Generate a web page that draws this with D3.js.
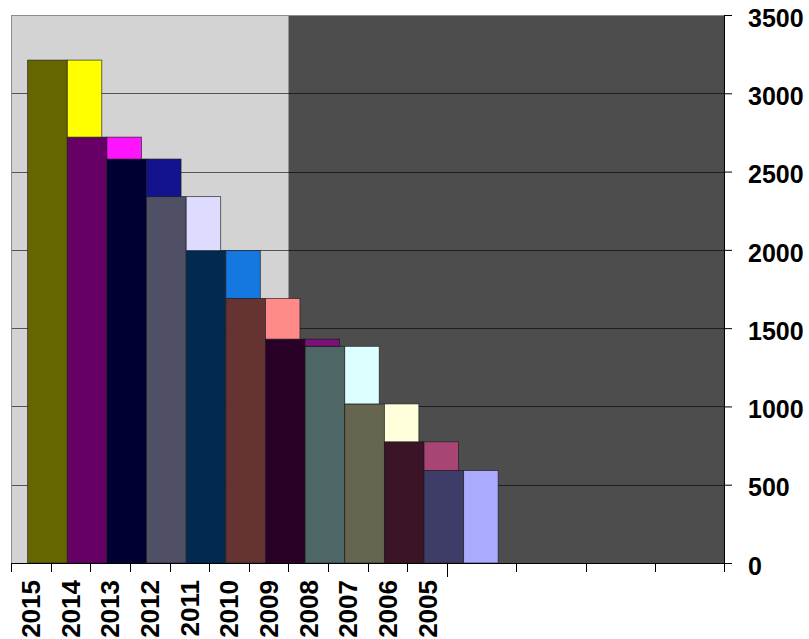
<!DOCTYPE html>
<html>
<head>
<meta charset="utf-8">
<script src="https://cdn.jsdelivr.net/npm/d3@7"></script>
<style>
    body { margin: 0; background: #ffffff; }
    svg text { font-family: "Liberation Sans", Arial, sans-serif; font-weight: bold; fill: #000; }
</style>
</head>
<body>
<div id="chart"></div>
<script>

// years shown on the category axis (newest first)
var years = ["2015", "2014", "2013", "2012", "2011", "2010", "2009", "2008", "2007", "2006", "2005"];
// cumulative totals per year
var totals = [3212, 2720, 2580, 2340, 1995, 1690, 1430, 1384, 1016, 774, 591];
// fill of the total column and of the step on top of the next one
var mainColors = ["#666600", "#660066", "#000033", "#4f5066", "#02294f", "#663333", "#290028", "#4f6666", "#666650", "#3b1428", "#3e3d68"];
var stepColors = ["#ffff00", "#ff14ff", "#131390", "#dddcff", "#1478e0", "#ff8a8a", "#7a1078", "#dcffff", "#ffffdc", "#a84575", "#aaaaff"];
var yTicks = [0, 500, 1000, 1500, 2000, 2500, 3000, 3500];
var emptySlots = 4;   // unused category slots to the right of 2005
var lightSlots = 7;   // categories with the light backdrop

function drawChart(selector){

    var width = 809, height = 639;
    var left = 11, top = 15, right = 724, bottom = 563;
    var splitX = 447;

    var svg = d3.select(selector)
        .append("svg")
        .attr("width", width)
        .attr("height", height);

    var x = d3.scaleBand()
        .domain(years)
        .range([left, splitX])
        .paddingInner(0)
        .paddingOuter(0);

    var bw = x.bandwidth();

    // slots after the last year are wider
    var xRest = d3.scaleLinear()
        .domain([0, emptySlots])
        .range([splitX, right]);

    var y = d3.scaleLinear()
        .domain([0, 3500])
        .range([bottom, top]);

    // backdrop
    var lightEnd = x(years[lightSlots]);
    svg.append("rect")
        .attr("x", left).attr("y", top)
        .attr("width", lightEnd - left).attr("height", bottom - top)
        .attr("fill", "#d3d3d3");
    svg.append("rect")
        .attr("x", lightEnd).attr("y", top)
        .attr("width", right - lightEnd).attr("height", bottom - top)
        .attr("fill", "#4d4d4d");

    // gridlines
    svg.selectAll(".grid")
        .data(yTicks.filter(function(d){ return d > 0; }))
        .enter().append("line")
        .attr("class", "grid")
        .attr("x1", left).attr("x2", right)
        .attr("y1", function(d){ return Math.round(y(d)) + 0.5; })
        .attr("y2", function(d){ return Math.round(y(d)) + 0.5; })
        .attr("stroke", "#000")
        .attr("stroke-opacity", function(d){ return d == 3500 ? 0.35 : 0.6; })
        .attr("stroke-width", 1.2);

    svg.append("line")
        .attr("x1", left + 0.5).attr("x2", left + 0.5)
        .attr("y1", top).attr("y2", bottom)
        .attr("stroke", "#8c8c8c");

    var offset = bw * 0.42;

    // total columns
    svg.selectAll(".bar")
        .data(years)
        .enter().append("rect")
        .attr("class", "bar")
        .attr("x", function(d){ return x(d) + offset; })
        .attr("y", function(d, i){ return y(totals[i]); })
        .attr("width", bw)
        .attr("height", function(d, i){ return y(0) - y(totals[i]); })
        .attr("fill", function(d, i){ return mainColors[i]; })
        .attr("stroke", "#1a1a1a")
        .attr("stroke-opacity", 0.8)
        .attr("stroke-width", 0.8);

    // step pieces: difference to the next (older) year
    svg.selectAll(".step")
        .data(years)
        .enter().append("rect")
        .attr("class", "step")
        .attr("x", function(d){ return x(d) + offset + bw; })
        .attr("y", function(d, i){ return y(totals[i]); })
        .attr("width", bw * 0.87)
        .attr("height", function(d, i){
            var base = i + 1 < totals.length ? totals[i + 1] : 0;
            return y(base) - y(totals[i]);
        })
        .attr("fill", function(d, i){ return stepColors[i]; })
        .attr("stroke", "#1a1a1a")
        .attr("stroke-opacity", 0.8)
        .attr("stroke-width", 0.8);

    // plot top edge
    svg.append("line")
        .attr("x1", left).attr("x2", right)
        .attr("y1", top + 0.5).attr("y2", top + 0.5)
        .attr("stroke", "#8c8c8c");

    // x axis line and ticks
    var tickXs = years.map(function(d){ return x(d); })
        .concat(d3.range(0, emptySlots + 1).map(function(i){ return xRest(i); }));

    svg.append("line")
        .attr("x1", left).attr("x2", right)
        .attr("y1", bottom + 0.5).attr("y2", bottom + 0.5)
        .attr("stroke", "#000");

    svg.selectAll(".xtick")
        .data(tickXs)
        .enter().append("line")
        .attr("class", "xtick")
        .attr("x1", function(d){ return Math.round(d) + 0.5; })
        .attr("x2", function(d){ return Math.round(d) + 0.5; })
        .attr("y1", bottom)
        .attr("y2", function(d){ return d == splitX ? bottom + 14 : bottom + 9; })
        .attr("stroke", "#000");

    svg.selectAll(".xlabel")
        .data(years)
        .enter().append("text")
        .attr("class", "xlabel")
        .attr("transform", function(d){
            return "translate(" + (x(d) + bw / 2) + "," + 580 + ") rotate(-90)";
        })
        .attr("text-anchor", "end")
        .attr("dy", "0.36em")
        .attr("font-size", 26)
        .text(function(d){ return d; });

    // y axis on the right
    var yAxis = svg.append("g")
        .attr("class", "rightaxis")
        .attr("transform", "translate(" + right + ",0)")
        .call(d3.axisRight(y).tickValues(yTicks).tickFormat(d3.format("d")).tickSize(8).tickPadding(16));

    yAxis.select(".domain")
        .attr("stroke", "#000")
        .attr("d", "M0.5," + top + "V" + bottom);

    yAxis.selectAll("text")
        .attr("font-size", 25)
        .attr("font-family", "'Liberation Sans', Arial, sans-serif")
        .attr("font-weight", "bold")
        .attr("dy", "0.45em");

}

drawChart("#chart");
</script>
</body>
</html>
